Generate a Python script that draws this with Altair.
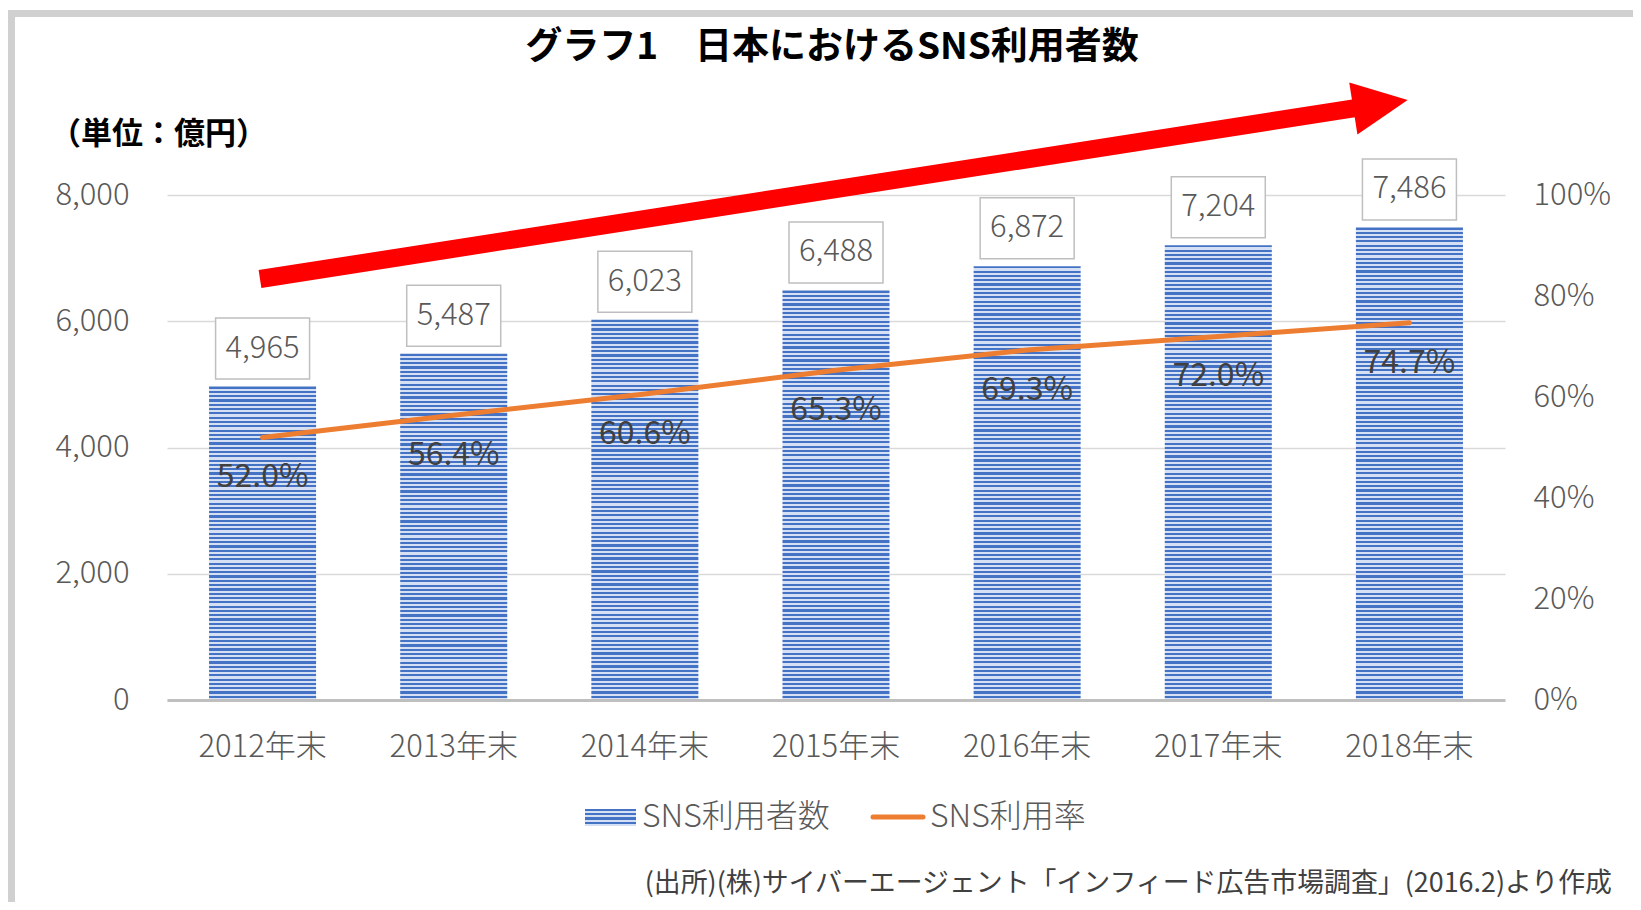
import altair as alt
import pandas as pd

# ---------------- data ----------------
years = ["2012年末", "2013年末", "2014年末", "2015年末", "2016年末", "2017年末", "2018年末"]
users = [4965, 5487, 6023, 6488, 6872, 7204, 7486]          # SNS利用者数 (bars, left axis)
rates = [0.520, 0.564, 0.606, 0.653, 0.693, 0.720, 0.747]   # SNS利用率 (line, right axis)
left_ticks = [0, 2000, 4000, 6000, 8000]
right_ticks = [0, 0.2, 0.4, 0.6, 0.8, 1.0]
series_names = ["SNS利用者数", "SNS利用率"]
title_text = "グラフ1　日本におけるSNS利用者数"
unit_text = "（単位：億円）"
source_text = "(出所)(株)サイバーエージェント「インフィード広告市場調査」(2016.2)より作成"

df = pd.DataFrame({"year": years, "users": users, "rate": rates})
one = pd.DataFrame({"k": [0]})

# ---------------- style / layout ----------------
FONT = "Noto Sans CJK JP"
W, H = 1338, 505
PAD = {"left": 159, "top": 187, "right": 128, "bottom": 202}
DARK, LIGHT = "#4472C4", "#D6E0F4"
ORANGE = "#ED7D31"
AXIS_GRAY = "#595959"
YMAX = 8000
STRIPE_PX = 4.3


def stripes(n):
    stops = []
    for k in range(n):
        a = k / n
        m = (k + 0.5) / n
        b = (k + 1) / n
        stops += [
            alt.GradientStop(offset=a, color=DARK),
            alt.GradientStop(offset=m, color=DARK),
            alt.GradientStop(offset=m, color=LIGHT),
            alt.GradientStop(offset=b, color=LIGHT),
        ]
    return alt.LinearGradient(gradient="linear", stops=stops, x1=0, x2=0, y1=0, y2=1)


x_enc = alt.X(
    "year:N", sort=years, title=None,
    scale=alt.Scale(paddingInner=0.44, paddingOuter=0.22),
    axis=alt.Axis(labelFont=FONT, labelFontSize=31, labelFontWeight=300, labelColor=AXIS_GRAY,
                  labelAngle=0, labelPadding=47, labelBaseline="middle", ticks=False,
                  domainColor="#BFBFBF", domainWidth=3, grid=False, zindex=1),
)
y_left = alt.Y(
    "users:Q", title=None, scale=alt.Scale(domain=[0, YMAX], nice=False),
    axis=alt.Axis(values=left_ticks, format=",.0f", labelFont=FONT, labelFontSize=31,
                  labelFontWeight=300, labelColor=AXIS_GRAY, labelPadding=38, ticks=False,
                  domain=False, gridColor="#D9D9D9", gridWidth=1.5),
)
y_right = alt.Y(
    "rate:Q", title=None, scale=alt.Scale(domain=[0, 1], nice=False),
    axis=alt.Axis(orient="right", values=right_ticks, format=".0%", labelFont=FONT,
                  labelFontSize=31, labelFontWeight=300, labelColor=AXIS_GRAY, labelPadding=28,
                  ticks=False, domain=False, grid=False),
)

base = alt.Chart(df)

# striped bars: one layer per bar so the stripe pitch is constant
bar_layers = []
for yr, v in zip(years, users):
    n = max(1, round(v / YMAX * H / STRIPE_PX))
    bar_layers.append(
        base.transform_filter(alt.datum.year == yr)
        .mark_bar(fill=stripes(n))
        .encode(x=x_enc, y=y_left)
    )

boxes = base.mark_point(
    shape="M-1,-0.649L1,-0.649L1,0.649L-1,0.649Z", size=94 * 94, filled=True,
    fill="white", stroke="#BFBFBF", strokeWidth=1.5, opacity=1, yOffset=-38,
).encode(x=x_enc, y=y_left)

value_text = base.mark_text(
    dy=-38, font=FONT, fontSize=31, fontWeight=300, color=AXIS_GRAY,
    baseline="middle", align="center"
).encode(x=x_enc, y=y_left, text=alt.Text("users:Q", format=",.0f"))

left_group = alt.layer(*bar_layers, boxes, value_text)

line = base.mark_line(color=ORANGE, strokeWidth=5, strokeCap="round").encode(x=x_enc, y=y_right)
pct_text = base.mark_text(
    dy=40, font=FONT, fontSize=32, color="#404040", baseline="middle", align="center"
).encode(x=x_enc, y=y_right, text=alt.Text("rate:Q", format=".1%"))

right_group = alt.layer(line, pct_text)

# ---------------- decorations ----------------
deco = alt.Chart(one)
frame_top = deco.mark_rect(color="#D0D0D0").encode(
    x=alt.value(-160), x2=alt.value(W + PAD["right"]), y=alt.value(-185), y2=alt.value(-178))
frame_left = deco.mark_rect(color="#D0D0D0").encode(
    x=alt.value(-160), x2=alt.value(-152), y=alt.value(-185), y2=alt.value(H + PAD["bottom"]))

arrow_shaft = deco.mark_rule(color="#FF0000", strokeWidth=18, strokeCap="butt").encode(
    x=alt.value(93), y=alt.value(84), x2=alt.value(1193), y2=alt.value(-87.6))
arrow_head = deco.mark_point(
    shape="M-1,-0.96L1,0L-1,0.96Z", size=3025, filled=True, color="#FF0000",
    opacity=1, angle=351.1,
).encode(x=alt.value(1213.5), y=alt.value(-90.75))

title = deco.mark_text(
    text=title_text, font=FONT, fontSize=37, fontWeight="bold", color="black",
    align="center", baseline="middle").encode(x=alt.value(665), y=alt.value(-147))
unit = deco.mark_text(
    text=unit_text, font=FONT, fontSize=31, fontWeight="bold", color="black",
    align="left", baseline="middle").encode(x=alt.value(-117), y=alt.value(-60))
source = deco.mark_text(
    text=source_text, font=FONT, fontSize=26.9, color="#404040",
    align="right", baseline="middle").encode(x=alt.value(1445), y=alt.value(689))

# manual legend
leg_bar = deco.mark_rect(fill=stripes(4)).encode(
    x=alt.value(418), x2=alt.value(469), y=alt.value(614), y2=alt.value(631))
leg_bar_text = deco.mark_text(
    text=series_names[0], font=FONT, fontSize=32, fontWeight=300, color=AXIS_GRAY,
    align="left", baseline="middle").encode(x=alt.value(475), y=alt.value(622))
leg_line = deco.mark_rule(color=ORANGE, strokeWidth=5, strokeCap="round").encode(
    x=alt.value(706), x2=alt.value(756), y=alt.value(622))
leg_line_text = deco.mark_text(
    text=series_names[1], font=FONT, fontSize=32, fontWeight=300, color=AXIS_GRAY,
    align="left", baseline="middle").encode(x=alt.value(763), y=alt.value(622))

chart = (
    alt.layer(
        left_group, right_group,
        frame_top, frame_left, arrow_shaft, arrow_head,
        title, unit, source, leg_bar, leg_bar_text, leg_line, leg_line_text,
    )
    .resolve_scale(y="independent")
    .properties(width=W, height=H, padding=PAD, autosize=alt.AutoSizeParams(type="none"),
                background="white")
    .configure_view(stroke=None)
)

chart.save("out.html", embed_options={"renderer": "svg", "actions": False})
